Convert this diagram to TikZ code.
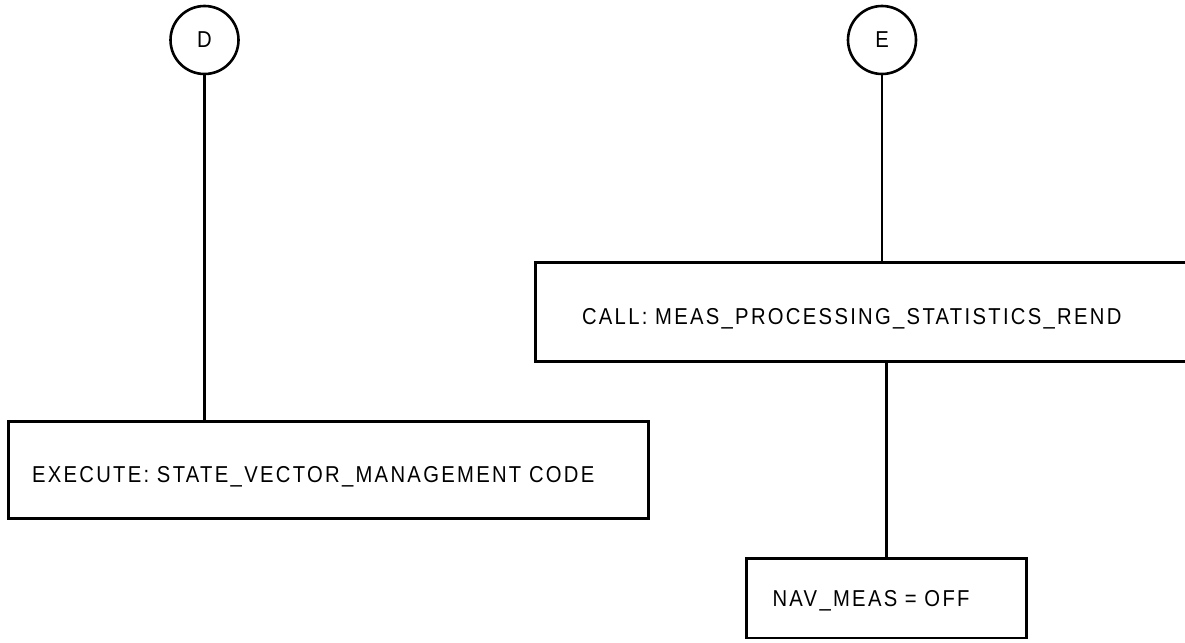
\documentclass[tikz,border=0pt]{standalone}
\usepackage{fontspec}
\setmainfont{Liberation Sans}[LetterSpace=10,FakeStretch=0.88,WordSpace=1.6]
\begin{document}
\begin{tikzpicture}[x=1pt,y=-1pt,
  conn/.style={circle,draw,line width=2.6pt,minimum size=68pt,inner sep=0pt,font=\fontsize{23}{27}\selectfont},
  procbox/.style={rectangle,draw,line width=2.6pt,align=left,font=\fontsize{23}{27}\selectfont,text depth=0pt,inner ysep=0pt},
  link/.style={line width=2.4pt}]
\useasboundingbox (0,0) rectangle (1185,642);
\node[conn] (D) at (204.5,40) {D};
\node[conn] (E) at (882,40) {E};
\node[procbox,minimum width=640.4pt,minimum height=96.5pt,inner xsep=23.7pt,text width=593pt,text height=24pt] (b1) at (328.5,470) {EXECUTE: STATE\_VECTOR\_MANAGEMENT CODE};
\node[procbox,draw=none,minimum width=648pt,minimum height=96.5pt,inner xsep=45pt,text width=558pt,text height=23.6pt] (b2) at (861,312.2) {CALL: MEAS\_PROCESSING\_STATISTICS\_REND};
\draw[line width=2.6pt] (b2.north east) -- (b2.north west) -- (b2.south west) -- (b2.south east);
\node[procbox,minimum width=280pt,minimum height=79.4pt,inner xsep=26pt,text width=228pt,text height=16.8pt] (b3) at (886.5,598.3) {NAV\_MEAS = OFF};
\draw[link] (D.south) -- (D.south |- b1.north);
\draw[link] (E.south) -- (E.south |- b2.north);
\draw[link] (b3.north |- b2.south) -- (b3.north);
\end{tikzpicture}
\end{document}
